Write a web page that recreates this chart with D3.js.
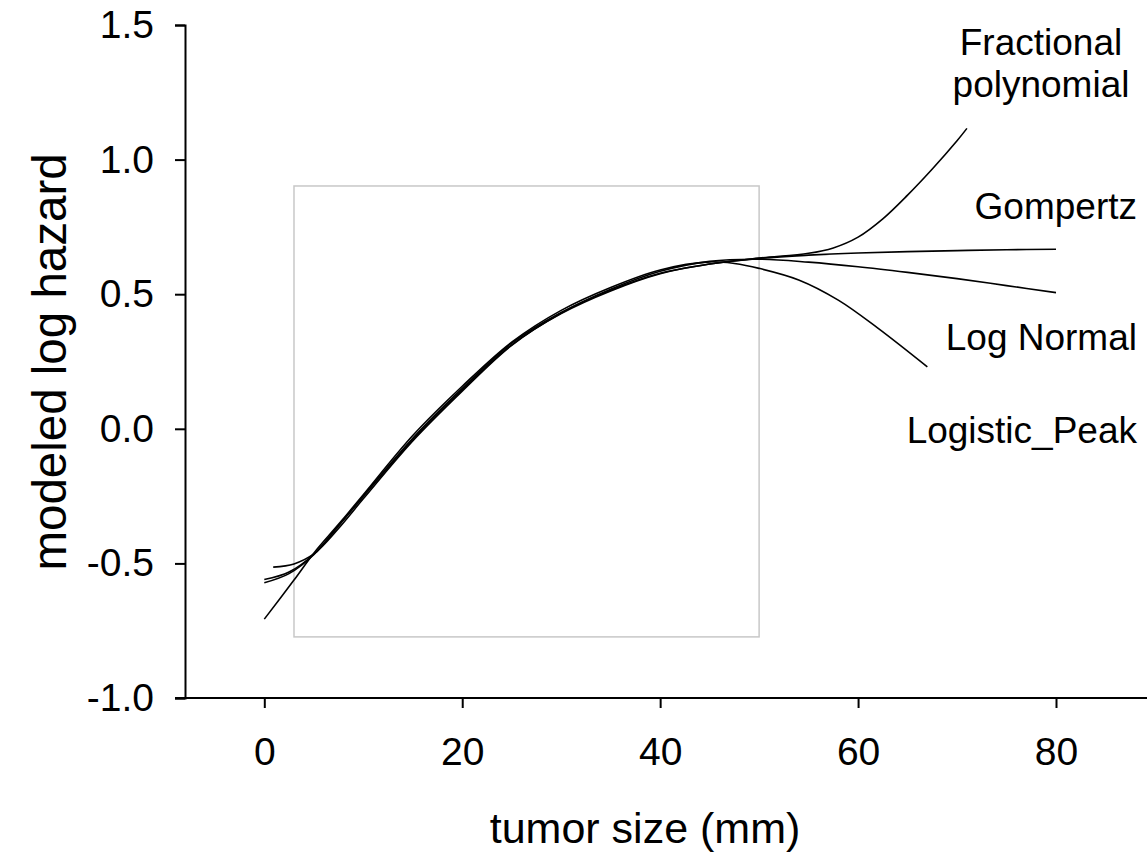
<!DOCTYPE html>
<html>
<head>
<meta charset="utf-8">
<script src="https://cdn.jsdelivr.net/npm/d3@7"></script>
<style>
  body { margin: 0; background: #fff; }
  text { font-family: "Liberation Sans", Arial, sans-serif; fill: #000; }
</style>
</head>
<body>
<svg id="chart"></svg>
<script>
// values (tumor size in mm, modeled log hazard)
var fpSize   = [0, 2.5, 5, 7.5, 10, 15, 20, 25, 30, 35, 40, 45, 50, 55, 57.5, 60, 62.5, 65, 67.5, 70, 71];
var fpHazard = [-0.572, -0.538, -0.468, -0.36, -0.25, -0.035, 0.15, 0.318, 0.432, 0.515, 0.578, 0.612, 0.634, 0.652, 0.672, 0.712, 0.78, 0.868, 0.965, 1.07, 1.116];

var gzSize   = [0, 2.5, 5, 7.5, 10, 15, 20, 25, 30, 35, 40, 45, 50, 55, 60, 65, 70, 75, 80];
var gzHazard = [-0.56, -0.532, -0.466, -0.36, -0.252, -0.04, 0.145, 0.312, 0.428, 0.512, 0.576, 0.612, 0.633, 0.645, 0.653, 0.658, 0.662, 0.665, 0.667];

var lnSize   = [0.9, 3, 5, 7.5, 10, 15, 20, 25, 30, 35, 40, 45, 50, 55, 60, 65, 70, 75, 80];
var lnHazard = [-0.514, -0.502, -0.465, -0.37, -0.26, -0.045, 0.14, 0.31, 0.43, 0.518, 0.585, 0.622, 0.630, 0.619, 0.602, 0.581, 0.558, 0.532, 0.506];

var lpSize   = [0, 3, 5, 7.5, 10, 15, 20, 25, 30, 35, 40, 45, 47.5, 50, 54, 58, 62, 67];
var lpHazard = [-0.707, -0.562, -0.462, -0.355, -0.245, -0.025, 0.158, 0.322, 0.44, 0.525, 0.59, 0.62, 0.614, 0.596, 0.553, 0.478, 0.374, 0.23];

var seriesNames = ["Fractional polynomial", "Gompertz", "Log Normal", "Logistic_Peak"];

// gray rectangle (x from 3 to 50 mm, y from -0.773 to 0.902)
var boxSize = [3, 50];
var boxHazard = [-0.773, 0.902];

var xTicks = [0, 20, 40, 60, 80];
var yTicks = [-1.0, -0.5, 0.0, 0.5, 1.0, 1.5];

var width = 1147, height = 861;
var margin = {top: 25, left: 185, bottom: 163};

var x = d3.scaleLinear().domain([0, 80]).range([264.3, 1056]);
// extend domain so axis runs from the y axis to the right edge
x.domain([x.invert(margin.left), x.invert(width + 8)]).range([margin.left, width + 8]);

var y = d3.scaleLinear()
	.domain([-1.0, 1.5])
	.range([height - margin.bottom, margin.top]);

var svg = d3.select("#chart")
	.attr("width", width)
	.attr("height", height);

//gray box
svg.append("rect")
	.attr("x", x(boxSize[0]))
	.attr("y", y(boxHazard[1]))
	.attr("width", x(boxSize[1]) - x(boxSize[0]))
	.attr("height", y(boxHazard[0]) - y(boxHazard[1]))
	.attr("fill", "none")
	.attr("stroke", "#c8c8c8")
	.attr("stroke-width", 1.5);

//plain hyphen for negatives, like the original
function yFormat(d) { return d3.format(".1f")(d).replace("\u2212", "-"); }

//axes
var xAxis = svg.append("g")
	.attr("transform", "translate(0," + y(-1.0) + ")")
	.call(d3.axisBottom(x).tickValues(xTicks).tickSizeOuter(0).tickSize(10).tickPadding(29)
		.tickFormat(d3.format("d")));

var yAxis = svg.append("g")
	.attr("transform", "translate(" + margin.left + ",0)")
	.call(d3.axisLeft(y).tickValues(yTicks).tickSizeOuter(0).tickSize(10).tickPadding(21)
		.tickFormat(yFormat));

// the -1.0 tick runs along the x axis, so extend the x axis line left
xAxis.select(".domain").attr("d", "M" + (margin.left - 10) + ",0H" + (width + 8));

[xAxis, yAxis].forEach(function(g) {
	g.selectAll(".domain, .tick line").attr("stroke", "#000").attr("stroke-width", 2);
	g.selectAll(".tick text").attr("font-size", 39).attr("font-family", "Liberation Sans, Arial, sans-serif");
});

//curves
var lines = [
	{name: seriesNames[0], xs: fpSize, ys: fpHazard},
	{name: seriesNames[1], xs: gzSize, ys: gzHazard},
	{name: seriesNames[2], xs: lnSize, ys: lnHazard},
	{name: seriesNames[3], xs: lpSize, ys: lpHazard}
];

var line = d3.line()
	.x(function(d) { return x(d[0]); })
	.y(function(d) { return y(d[1]); })
	.curve(d3.curveCatmullRom.alpha(0.5));

svg.selectAll("path.curve")
	.data(lines)
	.enter()
	.append("path")
	.attr("class", "curve")
	.attr("d", function(d) { return line(d3.zip(d.xs, d.ys)); })
	.attr("fill", "none")
	.attr("stroke", "#000")
	.attr("stroke-width", 1.6);

//curve labels
var labelFont = 37;
svg.append("text").text("Fractional")
	.attr("x", 1041).attr("y", 55)
	.attr("text-anchor", "middle").attr("font-size", labelFont);
svg.append("text").text("polynomial")
	.attr("x", 1041).attr("y", 97)
	.attr("text-anchor", "middle").attr("font-size", labelFont);
svg.append("text").text(seriesNames[1])
	.attr("x", 1137).attr("y", 219)
	.attr("text-anchor", "end").attr("font-size", labelFont);
svg.append("text").text(seriesNames[2])
	.attr("x", 1137).attr("y", 350)
	.attr("text-anchor", "end").attr("font-size", labelFont);
svg.append("text").text(seriesNames[3])
	.attr("x", 1137).attr("y", 443)
	.attr("text-anchor", "end").attr("font-size", labelFont);

//axis titles
svg.append("text")
	.text("tumor size (mm)")
	.attr("x", 645)
	.attr("y", 843)
	.attr("text-anchor", "middle")
	.attr("font-size", 43);

svg.append("text")
	.text("modeled log hazard")
	.attr("transform", "translate(66," + 362 + ") rotate(-90)")
	.attr("text-anchor", "middle")
	.attr("font-size", 47.5);
</script>
</body>
</html>
